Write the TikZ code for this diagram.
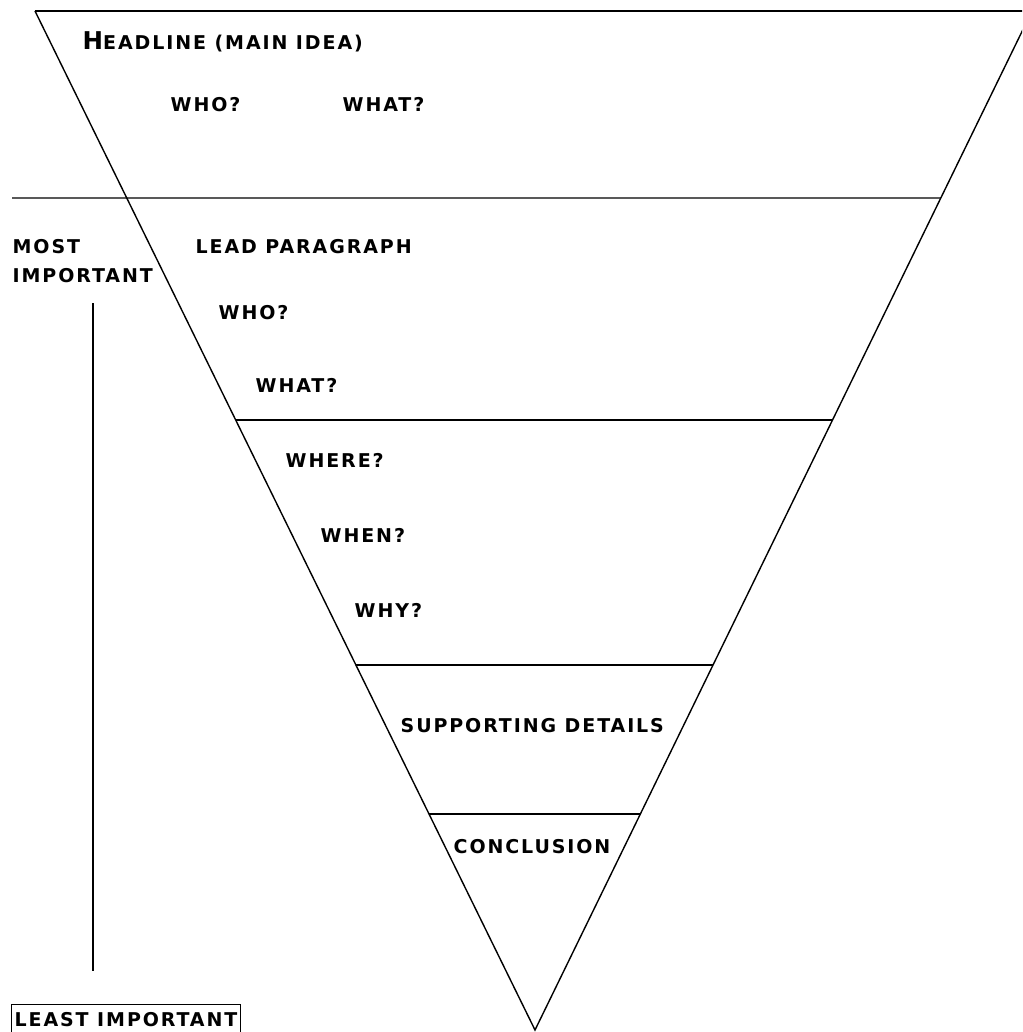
\documentclass[tikz,border=0pt]{standalone}
\usepackage{fontspec}
\newfontfamily\capsfont[LetterSpace=10]{DejaVu Sans Bold}
\usetikzlibrary{calc}

\begin{document}
\begin{tikzpicture}[x=1pt, y=-1pt, line width=1.4pt,
  tag/.style={anchor=base west, inner sep=0pt, font=\capsfont\fontsize{19}{21}\selectfont}]
\useasboundingbox (0,0) rectangle (1022,1032);
\clip (0,0) rectangle (1022,1032);

% inverted triangle
\coordinate (topL) at (35,11);
\coordinate (topR) at (1032,11);
\coordinate (tip) at (535,1030);
\draw (topL) -- (topR);
\draw (topL) -- (tip) -- (topR);

% bands
\coordinate (farL) at (12,198);
\draw (farL) -- ($(topR)!0.1835!(tip)$);
\draw ($(topL)!0.4014!(tip)$) -- ($(topR)!0.4014!(tip)$);
\draw ($(topL)!0.6418!(tip)$) -- ($(topR)!0.6418!(tip)$);
\draw ($(topL)!0.7880!(tip)$) -- ($(topR)!0.7880!(tip)$);

% labels
\node[tag] (head) at (82,50) {{\fontsize{24.5}{26}\selectfont H}EADLINE (MAIN IDEA)};
\node[tag] (who1) at (170,112) {WHO?};
\node[tag] (what1) at (342,112) {WHAT?};
\node[tag] (lead) at (195,253) {LEAD PARAGRAPH};
\node[tag] (who2) at (218,319) {WHO?};
\node[tag] (what2) at (255,392) {WHAT?};
\node[tag] (where) at (285,467) {WHERE?};
\node[tag] (when) at (320,542) {WHEN?};
\node[tag] (why) at (354,617) {WHY?};
\node[tag] (supp) at (400,732) {SUPPORTING DETAILS};
\node[tag] (concl) at (453,853) {CONCLUSION};

% importance scale
\node[tag] (most) at (12,253) {MOST};
\node[tag] (mostb) at (12,282) {IMPORTANT};
\coordinate (scaleTop) at (93,303);
\coordinate (scaleEnd) at (93,971);
\draw (scaleTop) -- (scaleEnd);
\node[tag, draw, anchor=north west, inner xsep=3pt, inner ysep=7pt, text height=15pt, text depth=12pt] (least) at (11,1004) {LEAST IMPORTANT};

\end{tikzpicture}
\end{document}
